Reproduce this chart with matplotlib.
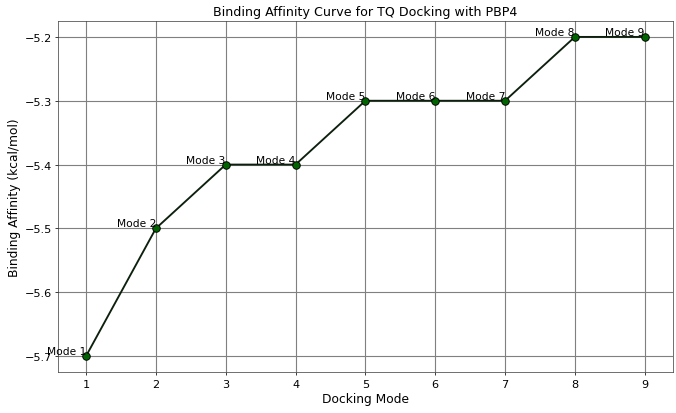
import matplotlib
matplotlib.use("Agg")
import matplotlib.pyplot as plt

modes = [1, 2, 3, 4, 5, 6, 7, 8, 9]
affinity = [-5.7, -5.5, -5.4, -5.4, -5.3, -5.3, -5.3, -5.2, -5.2]
labels = [f"Mode {m}" for m in modes]

fig = plt.figure(figsize=(10, 6.124), dpi=67.6)
ax = fig.add_axes([0.086, 0.099, 0.909, 0.848])
ax.plot(modes, affinity, color='#0d1f0d', linewidth=2, marker='o', markersize=8,
        markerfacecolor='#006400', markeredgecolor='black')
for m, a, lab in zip(modes, affinity, labels):
    ax.text(m, a, lab, ha='right', va='bottom', fontsize=11.3)
ax.set_title("Binding Affinity Curve for TQ Docking with PBP4", fontsize=13.5)
ax.set_xlabel("Docking Mode", fontsize=13)
ax.set_ylabel("Binding Affinity (kcal/mol)", fontsize=13)
ax.set_xticks(modes)
ax.tick_params(labelsize=12)
ax.grid(True, color='gray', linewidth=1.2)
for s in ax.spines.values():
    s.set_color('#444444')
fig.savefig("out.png", dpi=67.6)
